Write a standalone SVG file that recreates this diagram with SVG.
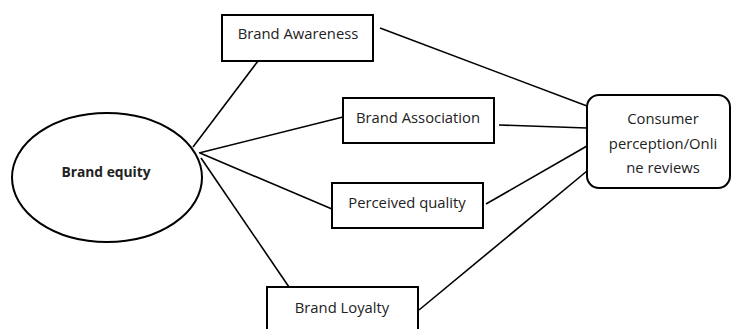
<svg xmlns="http://www.w3.org/2000/svg" width="732" height="329" viewBox="0 0 732 329">
<style>
.box{fill:#fff;stroke:#000;stroke-width:2}
.ln{stroke:#000;stroke-width:1.6;fill:none}
.t{font-family:"Open Sans","Noto Sans",sans-serif;font-size:14.8px;fill:#222;text-anchor:middle;dominant-baseline:central}
.b{font-weight:bold;font-size:13.8px}
</style>
<rect width="732" height="329" fill="#fff"/>
<g id="connectors">
<line class="ln" x1="258" y1="61" x2="193" y2="147"/>
<line class="ln" x1="343" y1="117" x2="199" y2="153"/>
<line class="ln" x1="332" y1="209" x2="200" y2="153"/>
<line class="ln" x1="289" y1="287" x2="201" y2="158"/>
<line class="ln" x1="380" y1="28" x2="587" y2="106"/>
<line class="ln" x1="499" y1="125" x2="587" y2="128"/>
<line class="ln" x1="486" y1="204" x2="587" y2="146"/>
<line class="ln" x1="419" y1="310" x2="587" y2="171"/>
</g>
<g id="brand-equity">
<ellipse class="box" cx="107" cy="177.5" rx="95" ry="64.5"/>
<text class="t b" x="106" y="171">Brand equity</text>
</g>
<g id="brand-awareness">
<rect class="box" x="222" y="15" width="151" height="46"/>
<text class="t" x="298" y="33">Brand Awareness</text>
</g>
<g id="brand-association">
<rect class="box" x="343" y="98" width="151" height="45"/>
<text class="t" x="418" y="117">Brand Association</text>
</g>
<g id="perceived-quality">
<rect class="box" x="332" y="183" width="151" height="45"/>
<text class="t" x="407" y="202">Perceived quality</text>
</g>
<g id="brand-loyalty">
<rect class="box" x="267" y="287" width="151" height="50"/>
<text class="t" x="342" y="307">Brand Loyalty</text>
</g>
<g id="consumer-perception">
<rect class="box" x="587" y="95" width="143" height="93" rx="12" ry="12"/>
<text class="t" x="663" y="118">Consumer</text>
<text class="t" x="663" y="143">perception/Onli</text>
<text class="t" x="663" y="167">ne reviews</text>
</g>
</svg>
